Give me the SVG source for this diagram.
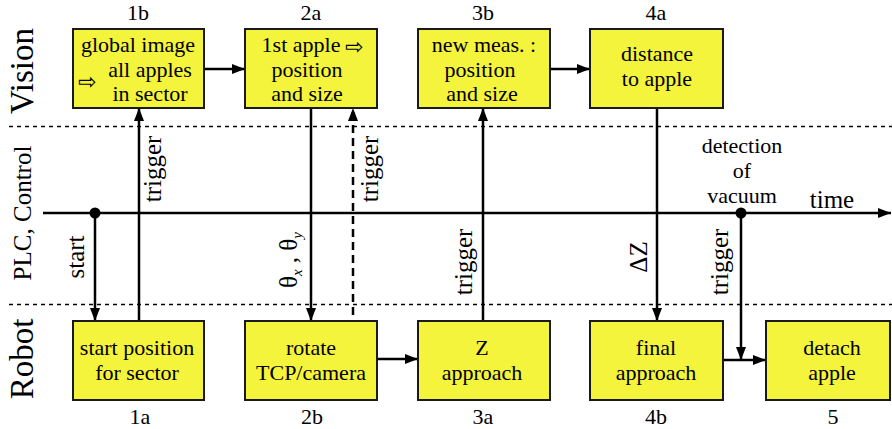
<svg xmlns="http://www.w3.org/2000/svg" width="892" height="429" viewBox="0 0 892 429" font-family="Liberation Serif">
<style>
.t{font-family:'Liberation Serif',serif;font-size:22px;text-anchor:middle}
.lane{font-family:'Liberation Serif',serif;font-size:33px;text-anchor:middle}
.rl{font-family:'Liberation Serif',serif;font-size:25px;text-anchor:middle}
.sym{font-family:'Liberation Serif','DejaVu Sans',serif;font-size:22px}
.box{fill:#f4f43c;stroke:#1a1a1a;stroke-width:2}
.c{stroke:#000;stroke-width:2.5;fill:none}
.dot{stroke:#000;stroke-width:1.5;stroke-dasharray:4 4;fill:none}
</style>
<defs>
<marker id="ah" markerUnits="userSpaceOnUse" markerWidth="13" markerHeight="10" refX="13" refY="5" orient="auto">
<path d="M0,0 L13,5 L0,10 z" fill="#000"/>
</marker>
</defs>
<g id="lanes">
<line class="dot" x1="9" y1="126.5" x2="892" y2="126.5"/>
<line class="dot" x1="9" y1="304.5" x2="892" y2="304.5"/>
<text class="lane" transform="translate(33,71) rotate(-90)">Vision</text>
<text class="rl" transform="translate(31,213) rotate(-90)">PLC, Control</text>
<text class="lane" transform="translate(33,359) rotate(-90)">Robot</text>
</g>
<g id="connectors">
<line class="c" x1="43" y1="213" x2="891" y2="213" marker-end="url(#ah)"/>
<circle cx="95" cy="213" r="5.5" fill="#000"/>
<circle cx="741" cy="213" r="5.5" fill="#000"/>
<line class="c" x1="95" y1="213" x2="95" y2="321" marker-end="url(#ah)"/>
<line class="c" x1="139" y1="321" x2="139" y2="108" marker-end="url(#ah)"/>
<line class="c" x1="311" y1="108" x2="311" y2="321" marker-end="url(#ah)"/>
<line class="c" x1="353" y1="315" x2="353" y2="108" stroke-dasharray="8 5" marker-end="url(#ah)"/>
<line class="c" x1="483" y1="321" x2="483" y2="108" marker-end="url(#ah)"/>
<line class="c" x1="657" y1="108" x2="657" y2="321" marker-end="url(#ah)"/>
<line class="c" x1="741" y1="213" x2="741" y2="360" marker-end="url(#ah)"/>
<line class="c" x1="204" y1="69" x2="245" y2="69" marker-end="url(#ah)"/>
<line class="c" x1="550" y1="69" x2="590" y2="69" marker-end="url(#ah)"/>
<line class="c" x1="377" y1="359" x2="418" y2="359" marker-end="url(#ah)"/>
<line class="c" x1="723" y1="360" x2="766" y2="360" marker-end="url(#ah)"/>
<text class="rl" transform="translate(84,257) rotate(-90)">start</text>
<text class="rl" transform="translate(161,169) rotate(-90)">trigger</text>
<text class="rl" transform="translate(297,260) rotate(-90)">θ<tspan font-style="italic" font-size="15" dy="5">x</tspan><tspan dy="-5"> , θ</tspan><tspan font-style="italic" font-size="15" dy="5">y</tspan></text>
<text class="rl" transform="translate(378,169) rotate(-90)">trigger</text>
<text class="rl" transform="translate(472,262) rotate(-90)">trigger</text>
<text class="rl" transform="translate(647,257) rotate(-90)">ΔZ</text>
<text class="rl" transform="translate(728,262) rotate(-90)">trigger</text>
<text class="t" x="742" y="153">detection</text>
<text class="t" x="742" y="178">of</text>
<text class="t" x="742" y="203">vacuum</text>
<text class="rl" x="832" y="208">time</text>
</g>
<g id="n1b">
<rect class="box" x="73" y="29" width="131" height="79"/>
<text class="t" x="138" y="20">1b</text>
<text class="t" x="138" y="52">global image</text>
<text class="sym" x="78" y="89">⇨</text>
<text class="t" x="150" y="77">all apples</text>
<text class="t" x="150" y="101">in sector</text>
</g>
<g id="n2a">
<rect class="box" x="245" y="29" width="132" height="79"/>
<text class="t" x="311" y="20">2a</text>
<text class="t" x="301" y="52">1st apple</text>
<text class="sym" x="345" y="54">⇨</text>
<text class="t" x="307" y="77">position</text>
<text class="t" x="307" y="101">and size</text>
</g>
<g id="n3b">
<rect class="box" x="418" y="29" width="132" height="79"/>
<text class="t" x="483" y="20">3b</text>
<text class="t" x="484" y="52">new meas. :</text>
<text class="t" x="480" y="77">position</text>
<text class="t" x="482" y="101">and size</text>
</g>
<g id="n4a">
<rect class="box" x="590" y="29" width="133" height="79"/>
<text class="t" x="656" y="20">4a</text>
<text class="t" x="657" y="61">distance</text>
<text class="t" x="657" y="86">to apple</text>
</g>
<g id="n1a">
<rect class="box" x="73" y="321" width="131" height="79"/>
<text class="t" x="137" y="355">start position</text>
<text class="t" x="137" y="380">for sector</text>
<text class="t" x="140" y="424">1a</text>
</g>
<g id="n2b">
<rect class="box" x="245" y="321" width="132" height="79"/>
<text class="t" x="311" y="355">rotate</text>
<text class="t" x="311" y="380">TCP/camera</text>
<text class="t" x="312" y="424">2b</text>
</g>
<g id="n3a">
<rect class="box" x="418" y="321" width="132" height="79"/>
<text class="t" x="482" y="355">Z</text>
<text class="t" x="482" y="380">approach</text>
<text class="t" x="483" y="424">3a</text>
</g>
<g id="n4b">
<rect class="box" x="590" y="321" width="133" height="79"/>
<text class="t" x="656" y="355">final</text>
<text class="t" x="656" y="380">approach</text>
<text class="t" x="656" y="424">4b</text>
</g>
<g id="n5">
<rect class="box" x="766" y="321" width="124" height="79"/>
<text class="t" x="832" y="355">detach</text>
<text class="t" x="832" y="380">apple</text>
<text class="t" x="833" y="424">5</text>
</g>
</svg>
